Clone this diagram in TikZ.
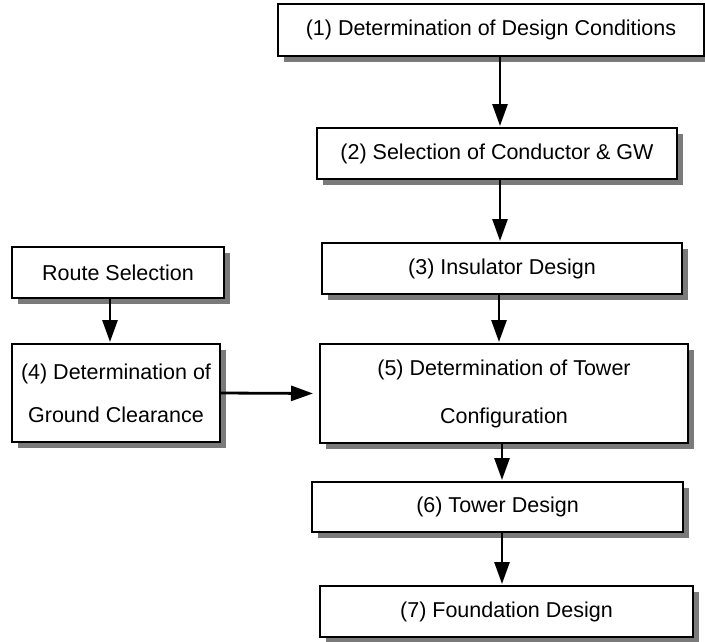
\documentclass[tikz,border=0pt]{standalone}
\usepackage{fontspec}
\setmainfont{Liberation Sans}
\usetikzlibrary{arrows.meta,shadows}
\definecolor{shadowgray}{HTML}{7A7A7A}
\tikzset{
  box/.style={draw=black, line width=1.8pt, fill=white, inner sep=0pt, outer sep=0pt,
    align=center, font=\fontsize{21.5}{45}\selectfont,
    drop shadow={shadow xshift=5.5pt, shadow yshift=-5.5pt, fill=shadowgray, opacity=1}},
  arr/.style={line width=2.8pt, -{Triangle[length=22pt,width=15pt]}}
}
\begin{document}
\begin{tikzpicture}[x=1pt,y=-1pt]
\useasboundingbox (0,0) rectangle (705,641);
\node[box, minimum width=426pt, minimum height=52pt] (b1) at (491,30) {(1) Determination of Design Conditions};
\node[box, minimum width=360pt, minimum height=51pt] (b2) at (497,153.5) {(2) Selection of Conductor \& GW};
\node[box, minimum width=360pt, minimum height=51pt] (b3) at (502,268.5) {(3) Insulator Design};
\node[box, minimum width=212pt, minimum height=51pt] (rs) at (118,272.5) {Route Selection};
\node[box, minimum width=208pt, minimum height=98pt, font=\fontsize{21.5}{43}\selectfont] (b4) at (116,393) {(4) Determination of\\Ground Clearance};
\node[box, minimum width=368pt, minimum height=99pt, font=\fontsize{21.5}{48}\selectfont] (b5) at (504,393.5) {(5) Determination of Tower\\Configuration};
\node[box, minimum width=371pt, minimum height=50pt] (b6) at (497.5,507) {(6) Tower Design};
\node[box, minimum width=373pt, minimum height=51pt] (b7) at (506.5,611.5) {(7) Foundation Design};
\coordinate (xa) at (500,0);
\coordinate (xb) at (499,0);
\coordinate (xc) at (502,0);
\coordinate (xd) at (110,0);
\draw[arr, shorten >=2pt] (b1.south -| xa) -- (b2.north -| xa);
\draw[arr, shorten >=2pt] (b2.south -| xa) -- (b3.north -| xa);
\draw[arr, shorten >=2pt] (b3.south -| xb) -- (b5.north -| xb);
\draw[arr, shorten >=2pt] (rs.south -| xd) -- (b4.north -| xd);
\draw[arr, shorten >=7pt] (b4.east) -- (b5.west);
\draw[arr, shorten >=2pt] (b5.south -| xc) -- (b6.north -| xc);
\draw[arr, shorten >=2pt] (b6.south -| xc) -- (b7.north -| xc);
\end{tikzpicture}
\end{document}
